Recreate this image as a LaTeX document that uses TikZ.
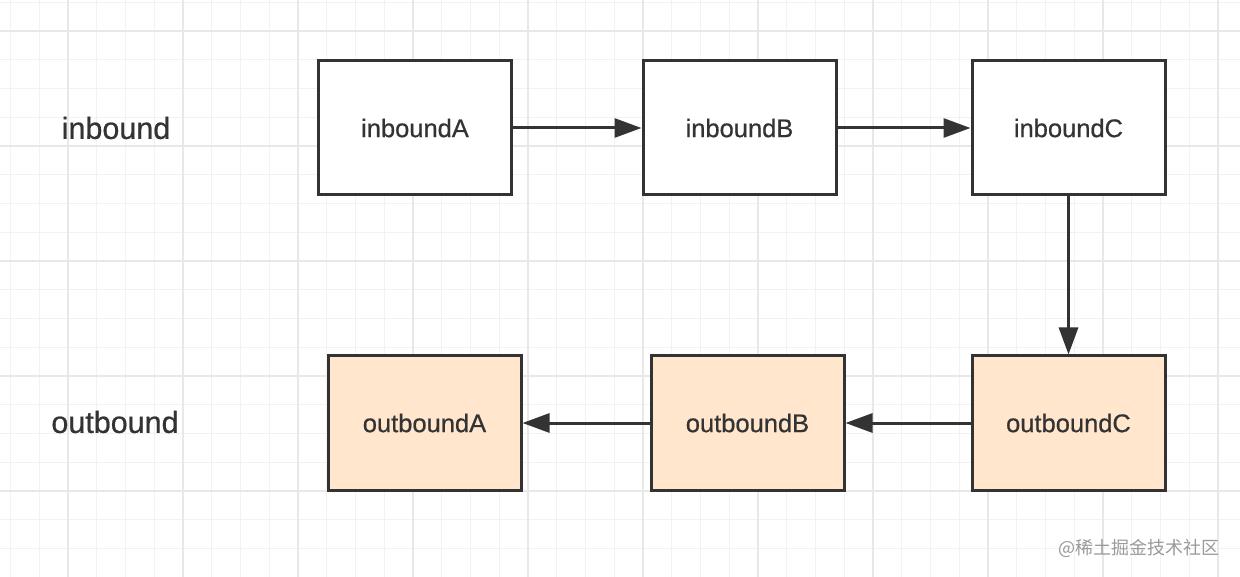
\documentclass[tikz,border=0pt]{standalone}
\usepackage{fontspec}
\setmainfont{Liberation Sans}[FakeBold=0.6]
\newfontfamily\cjk{Noto Sans CJK SC}
\usetikzlibrary{arrows.meta}
\definecolor{ink}{HTML}{333333}
\definecolor{gridminor}{HTML}{F2F2F2}
\definecolor{gridmajor}{HTML}{E8E8E8}
\definecolor{outfill}{HTML}{FFE6CC}
\definecolor{wm}{HTML}{9A9A9A}
\tikzset{
  box/.style={draw=ink, line width=3pt, minimum width=193pt, minimum height=134pt, inner sep=0pt, text=ink, font=\fontsize{25.5}{30}\selectfont},
  inbox/.style={box, fill=white},
  outbox/.style={box, fill=outfill},
  rowlabel/.style={text=ink, font=\fontsize{30.5}{36}\selectfont},
  conn/.style={draw=ink, line width=3pt, -{Triangle[length=27pt,width=19pt]}},
}
\begin{document}
\begin{tikzpicture}[x=1pt,y=-1pt]
\useasboundingbox (0,0) rectangle (1240,577);
\fill[white] (0,0) rectangle (1240,577);
% minor grid
\foreach \i in {0,...,43} {
  \draw[gridminor, line width=1.2pt] ({10.5+28.75*\i},0) -- ({10.5+28.75*\i},577);
}
\foreach \i in {0,...,20} {
  \draw[gridminor, line width=1.2pt] (0,{2.25+28.75*\i}) -- (1240,{2.25+28.75*\i});
}
% major grid
\foreach \i in {0,...,10} {
  \draw[gridmajor, line width=1.4pt] ({68+115*\i},0) -- ({68+115*\i},577);
}
\foreach \i in {0,...,4} {
  \draw[gridmajor, line width=1.4pt] (0,{31+115*\i}) -- (1240,{31+115*\i});
}
% labels
\node[rowlabel] (lin) at (116,128) {inbound};
\node[rowlabel] (lout) at (115,422) {outbound};
% boxes
\node[inbox] (iA) at (415,128) {inboundA};
\node[inbox] (iB) at (739.5,128) {inboundB};
\node[inbox] (iC) at (1068.5,128) {inboundC};
\node[outbox] (oA) at (424.5,423) {outboundA};
\node[outbox] (oB) at (747.5,423) {outboundB};
\node[outbox] (oC) at (1068.5,423) {outboundC};
% connectors
\draw[conn] (iA) -- (iB);
\draw[conn] (iB) -- (iC);
\draw[conn] (iC) -- (oC);
\draw[conn] (oC) -- (oB);
\draw[conn] (oB) -- (oA);
% watermark
\node[text=wm, font=\cjk\fontsize{18}{20}\selectfont, anchor=east] (wmk) at (1223,548) {@稀土掘金技术社区};
\end{tikzpicture}
\end{document}
